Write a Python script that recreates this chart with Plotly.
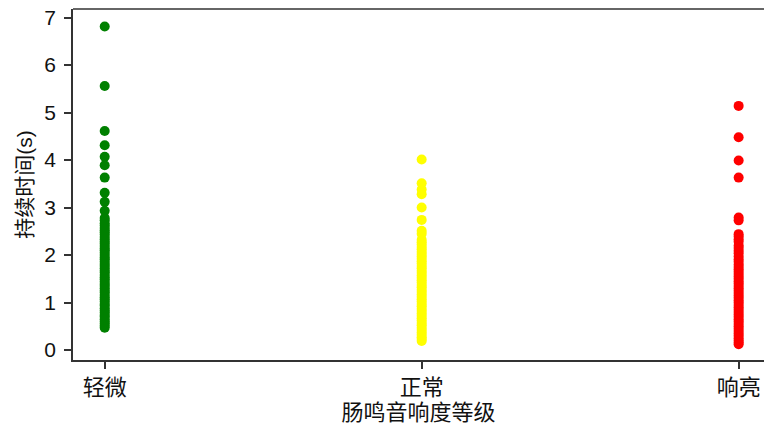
import plotly.graph_objects as go

categories = ["轻微", "正常", "响亮"]

mild_values = [6.81, 5.56, 4.61, 4.31, 4.07, 3.89, 3.63, 3.31, 3.12, 2.93,
               2.78, 2.73, 2.67, 2.62, 2.57, 2.52, 2.48, 2.43, 2.38,
               2.33, 2.28, 2.24, 2.19, 2.14, 2.10, 2.05, 2.00, 1.95, 1.91,
               1.86, 1.81, 1.77, 1.72, 1.67, 1.63, 1.58, 1.53, 1.49, 1.44,
               1.39, 1.35, 1.30, 1.25, 1.21, 1.16, 1.11, 1.07, 1.02, 0.97,
               0.93, 0.88, 0.83, 0.79, 0.74, 0.70, 0.65, 0.60, 0.56, 0.51, 0.47]

normal_values = [4.01, 3.51, 3.38, 3.28, 3.00, 2.74, 2.51, 2.45, 2.32, 2.27,
                 2.22, 2.17, 2.12, 2.07, 2.02, 1.97, 1.92, 1.87, 1.82, 1.77,
                 1.72, 1.67, 1.62, 1.57, 1.52, 1.47, 1.42, 1.37, 1.32, 1.27,
                 1.22, 1.17, 1.12, 1.07, 1.02, 0.97, 0.92, 0.87, 0.82, 0.77,
                 0.72, 0.67, 0.62, 0.57, 0.52, 0.47, 0.42, 0.37, 0.32, 0.27,
                 0.23, 0.19]

loud_values = [5.14, 4.48, 3.99, 3.63, 2.79, 2.73, 2.44, 2.39, 2.33, 2.28,
               2.20, 2.15, 2.09, 2.04, 1.97, 1.91, 1.86, 1.80, 1.75, 1.70,
               1.65, 1.60, 1.55, 1.50, 1.45, 1.40, 1.35, 1.30, 1.25, 1.20,
               1.15, 1.10, 1.05, 1.00, 0.95, 0.90, 0.85, 0.80, 0.75, 0.70,
               0.65, 0.60, 0.55, 0.50, 0.45, 0.40, 0.35, 0.30, 0.25, 0.20,
               0.16, 0.12]

colors = ["#008000", "#ffff00", "#ff0000"]
series = [mild_values, normal_values, loud_values]

FONT = "Liberation Sans, Arial, Noto Sans CJK SC"
AXIS_COLOR = "#333333"

fig = go.Figure()
for cat, vals, col in zip(categories, series, colors):
    fig.add_trace(go.Scatter(
        x=[cat] * len(vals), y=vals, mode="markers",
        marker=dict(color=col, size=10, line=dict(width=0)),
        showlegend=False, cliponaxis=False,
    ))

fig.update_layout(
    width=764, height=428,
    margin=dict(l=73, r=0, t=9, b=68, autoexpand=False),
    paper_bgcolor="white", plot_bgcolor="white",
    font=dict(family=FONT, size=21, color="#111111"),
    xaxis=dict(
        type="category", categoryorder="array", categoryarray=categories,
        range=[-0.1, 2.08], automargin=False,
        showline=True, linecolor=AXIS_COLOR, linewidth=1.5,
        ticks="outside", ticklen=7, tickwidth=1.5, tickcolor=AXIS_COLOR,
        showgrid=False, zeroline=False,
        tickfont=dict(size=22),
        title=dict(text="肠鸣音响度等级", font=dict(size=22), standoff=1),
    ),
    yaxis=dict(
        range=[-0.21, 7.18], automargin=False,
        tickvals=[0, 1, 2, 3, 4, 5, 6, 7],
        showline=True, linecolor=AXIS_COLOR, linewidth=1.5,
        ticks="outside", ticklen=7, tickwidth=1.5, tickcolor=AXIS_COLOR,
        showgrid=False, zeroline=False,
        tickfont=dict(size=21),
        ticklabelstandoff=4,
        title=dict(text="持续时间(s)", font=dict(size=21), standoff=6),
    ),
    shapes=[dict(type="line", xref="paper", yref="paper", x0=0, x1=1, y0=1, y1=1,
                 line=dict(color=AXIS_COLOR, width=1.5))],
)

fig.write_html(
    "out.html",
    config={"displayModeBar": False},
    post_script="document.body.style.margin='0';document.body.style.overflow='hidden';",
)
